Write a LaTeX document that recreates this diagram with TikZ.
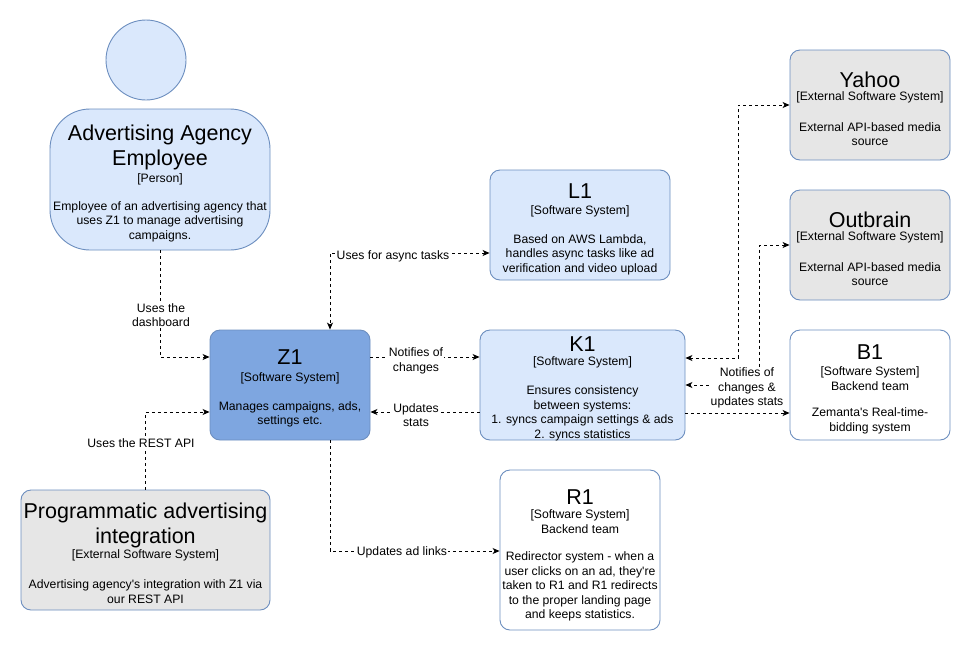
\documentclass[tikz,border=0pt]{standalone}
\usepackage{fontspec}
\setmainfont{Liberation Sans}
\usetikzlibrary{arrows.meta,calc}
\definecolor{bluefill}{HTML}{DAE8FC}
\definecolor{bluestroke}{HTML}{6C8EBF}
\definecolor{darkfill}{HTML}{7EA6E0}
\definecolor{grayfill}{HTML}{E6E6E6}
\tikzset{
  sysbox/.style={draw=bluestroke, line width=0.9pt, rounded corners=10pt, inner sep=0pt, minimum width=#1},
  sysbox/.default=160pt,
  ttl/.style={font=\fontsize{21.5}{25}\selectfont, align=center, inner sep=0pt},
  typ/.style={font=\fontsize{12.2}{14.5}\selectfont, align=center, inner sep=0pt},
  dsc/.style={font=\fontsize{12.2}{14.5}\selectfont, align=center, inner sep=0pt},
  lbl/.style={font=\fontsize{12.2}{14.5}\selectfont, align=center, fill=white, inner sep=1pt},
  conn/.style={draw=black, line width=0.8pt, dash pattern=on 3pt off 3pt, -{Stealth[length=7pt,width=6pt,inset=2pt]}},
  conntwo/.style={draw=black, line width=0.8pt, dash pattern=on 3pt off 3pt, {Stealth[length=7pt,width=6pt,inset=2pt]}-{Stealth[length=7pt,width=6pt,inset=2pt]}}
}
\begin{document}
\begin{tikzpicture}[x=1pt,y=-1pt]
\fill[white] (0,0) rectangle (971,651);
\useasboundingbox (0,0) rectangle (971,651);

% Person
\node[circle, draw=bluestroke, fill=bluefill, line width=0.9pt, minimum size=80pt, inner sep=0pt] (ph) at (146,60) {};
\node[draw=bluestroke, fill=bluefill, line width=0.9pt, rounded corners=40pt, minimum width=220pt, minimum height=141pt, inner sep=0pt] (pb) at (160,179.5) {};
\node[ttl] (pbt) at (160,147.5) {Advertising Agency\\Employee};
\node[typ] (pbs) at (160,179) {[Person]};
\node[dsc] (pbd) at (160,221.5) {Employee of an advertising agency that\\uses Z1 to manage advertising\\campaigns.};

% Z1
\node[sysbox, fill=darkfill, minimum height=110pt] (z1) at (290,385) {};
\node[ttl] (z1t) at (290,357) {Z1};
\node[typ] (z1s) at (290,378) {[Software System]};
\node[dsc] (z1d) at (290,414.5) {Manages campaigns, ads,\\settings etc.};

% K1
\node[sysbox=205pt, fill=bluefill, minimum height=110pt] (k1) at (582.5,385) {};
\node[ttl] (k1t) at (582.5,344) {K1};
\node[typ] (k1s) at (582.5,362) {[Software System]};
\node[dsc] (k1d) at (582.5,413.5) {Ensures consistency\\between systems:\\1. syncs campaign settings \& ads\\2. syncs statistics};

% L1
\node[sysbox=180pt, fill=bluefill, minimum height=110pt] (l1) at (580,225) {};
\node[ttl] (l1t) at (580,191.5) {L1};
\node[typ] (l1s) at (580,211) {[Software System]};
\node[dsc] (l1d) at (580,254.5) {Based on AWS Lambda,\\handles async tasks like ad\\verification and video upload};

% Yahoo
\node[sysbox, fill=grayfill, minimum height=110pt] (yahoo) at (870,105) {};
\node[ttl] (yat) at (870,80) {Yahoo};
\node[typ] (yas) at (870,97.5) {[External Software System]};
\node[dsc] (yad) at (870,134) {External API-based media\\source};

% Outbrain
\node[sysbox, fill=grayfill, minimum height=110pt] (outbrain) at (870,245) {};
\node[ttl] (obt) at (870,220) {Outbrain};
\node[typ] (obs) at (870,237.5) {[External Software System]};
\node[dsc] (obd) at (870,274) {External API-based media\\source};

% B1
\node[sysbox, fill=white, minimum height=110pt] (b1) at (870,385) {};
\node[ttl] (b1t) at (870,352.5) {B1};
\node[typ] (b1s) at (870,378.5) {[Software System]\\Backend team};
\node[dsc] (b1d) at (870,421) {Zemanta\textquotesingle s Real-time-\\bidding system};

% R1
\node[sysbox, fill=white, minimum height=160pt] (r1) at (580,550) {};
\node[ttl] (r1t) at (580,497) {R1};
\node[typ] (r1s) at (580,521.5) {[Software System]\\Backend team};
\node[dsc] (r1d) at (580,586.5) {Redirector system - when a\\user clicks on an ad, they\textquotesingle re\\taken to R1 and R1 redirects\\to the proper landing page\\and keeps statistics.};

% Programmatic
\node[sysbox=249pt, fill=grayfill, minimum height=120pt] (prog) at (145.5,550) {};
\node[ttl] (prt) at (145.5,525) {Programmatic advertising\\integration};
\node[typ] (prs) at (145.5,555) {[External Software System]};
\node[dsc] (prd) at (145.5,591.5) {Advertising agency\textquotesingle s integration with Z1 via\\our REST API};

% Connectors
\draw[conn] (pb.south) |- ($(z1.west)+(0,-28)$);
\node[lbl] (e1) at (161,315) {Uses the\\dashboard};

\draw[conn] (prog.north) |- ($(z1.west)+(0,27)$);
\node[lbl] (e2) at (141,443) {Uses the REST API};

\draw[conntwo] ($(l1.west)+(0,28)$) -| ($(z1.north)+(40,0)$);
\node[lbl] (e3) at (393,256) {Uses for async tasks};

\draw[conn] ($(z1.east)+(0,-28)$) -- ($(k1.west)+(0,-28)$);
\node[lbl] (e4) at (416,361) {Notifies of\\changes};

\draw[conn] ($(k1.west)+(0,27)$) -- ($(z1.east)+(0,27)$);
\node[lbl] (e5) at (416,415) {Updates\\stats};

\draw[conn] ($(z1.south)+(40,0)$) |- ($(r1.west)+(0,1)$);
\node[lbl] (e6) at (402,552) {Updates ad links};

\draw[conntwo] ($(k1.east)+(0,-27)$) -- ++(53,0) |- (yahoo.west);
\draw[conntwo] (outbrain.west) -- ++(-30,0) |- (k1.east);
\draw[conn] ($(k1.east)+(0,28)$) -- ($(b1.west)+(0,28)$);
\node[lbl] (e7) at (747,388) {Notifies of\\changes \&\\updates stats};
\end{tikzpicture}
\end{document}
